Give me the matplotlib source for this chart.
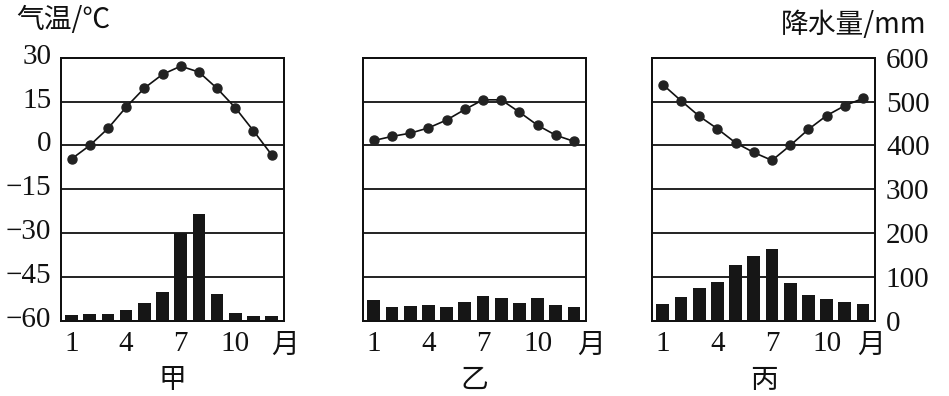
import matplotlib
matplotlib.use("Agg")
import matplotlib.pyplot as plt
from matplotlib.transforms import ScaledTranslation

plt.rcParams['font.family'] = ['Liberation Serif', 'Noto Sans CJK SC', 'DejaVu Sans']
plt.rcParams['axes.unicode_minus'] = True

months = list(range(1, 13))
panel_names = ["甲", "乙", "丙"]

temp_jia = [-4.6, 0.0, 5.8, 13.1, 19.6, 24.3, 27.1, 25.1, 19.5, 12.9, 5.0, -3.2]
prec_jia = [14, 15, 15, 26, 42, 66, 200, 243, 62, 19, 11, 11]

temp_yi = [1.7, 3.1, 4.2, 6.0, 8.7, 12.3, 15.6, 15.6, 11.4, 6.9, 3.5, 1.4]
prec_yi = [48, 33, 34, 36, 33, 44, 56, 52, 42, 52, 36, 31]

temp_bing = [20.8, 15.3, 10.0, 5.7, 0.9, -2.4, -5.1, 0.0, 5.5, 10.2, 13.6, 16.1]
prec_bing = [38, 54, 76, 90, 127, 149, 165, 87, 60, 50, 44, 38]

temp_ticks = [-60, -45, -30, -15, 0, 15, 30]
prec_ticks = [0, 100, 200, 300, 400, 500, 600]
month_ticks = [1, 4, 7, 10]

temps = [temp_jia, temp_yi, temp_bing]
precs = [prec_jia, prec_yi, prec_bing]

W, H = 949, 396
fig = plt.figure(figsize=(W / 100, H / 100), dpi=100)
fig.patch.set_facecolor('white')

lefts = [61, 363.3, 652.3]
yue_x = [12.75, 12.95, 12.45]
ax_w = 222.5
ax_top, ax_bot = 57.7, 321
FS = 21
CFS = 20
ink = '#111111'
up = ScaledTranslation(0, 4 / 100, fig.dpi_scale_trans)

for i in range(3):
    ax = fig.add_axes([lefts[i] / W, (H - ax_bot) / H, ax_w / W, (ax_bot - ax_top) / H])
    ax2 = ax.twinx()
    ax.set_xlim(0.42, 12.65)
    ax.set_ylim(-60, 30)
    ax2.set_ylim(0, 600)
    for y in temp_ticks:
        ax.axhline(y, color=ink, lw=1.3, zorder=1)
    ax2.bar(months, precs[i], width=0.7, color='#161616', zorder=2)
    ax.plot(months, temps[i], color=ink, lw=1.2, marker='o', ms=6.5,
            markerfacecolor='#222222', markeredgecolor='#222222', zorder=3)
    for a in (ax, ax2):
        for s in a.spines.values():
            s.set_linewidth(1.4)
            s.set_color(ink)
    ax.set_xticks(month_ticks)
    ax.set_xticklabels([str(m) for m in month_ticks])
    ax.tick_params(axis='x', length=0, pad=7, labelsize=FS, colors=ink)
    ax.set_yticks(temp_ticks)
    ax2.set_yticks(prec_ticks)
    if i == 0:
        ax.set_yticklabels([f"{t}".replace('-', '\u2212') for t in temp_ticks])
        ax.tick_params(axis='y', length=0, pad=7, labelsize=FS, colors=ink)
        for lab in ax.get_yticklabels():
            lab.set_transform(lab.get_transform() + up)
    else:
        ax.tick_params(axis='y', length=0, labelleft=False)
    if i == 2:
        ax2.tick_params(axis='y', length=0, pad=8, labelsize=FS, colors=ink)
    else:
        ax2.tick_params(axis='y', length=0, labelright=False)
    ax.text(yue_x[i], -0.09, "月", transform=ax.get_xaxis_transform(),
            ha='center', va='center', fontsize=CFS, color=ink,
            family=['Noto Sans CJK SC'])
    ax.text(0.5, -0.225, panel_names[i], transform=ax.transAxes,
            ha='center', va='center', fontsize=CFS, color=ink,
            family=['Noto Sans CJK SC'])

fig.text(16 / W, 1 - 20 / H, "气温/℃", ha='left', va='center', fontsize=CFS,
         color=ink, family=['Noto Sans CJK SC', 'DejaVu Sans'])
fig.text(926 / W, 1 - 25 / H, "降水量/mm", ha='right', va='center', fontsize=CFS,
         color=ink, family=['Noto Sans CJK SC', 'Liberation Serif'])

fig.savefig("out.png", dpi=100, facecolor='white')
